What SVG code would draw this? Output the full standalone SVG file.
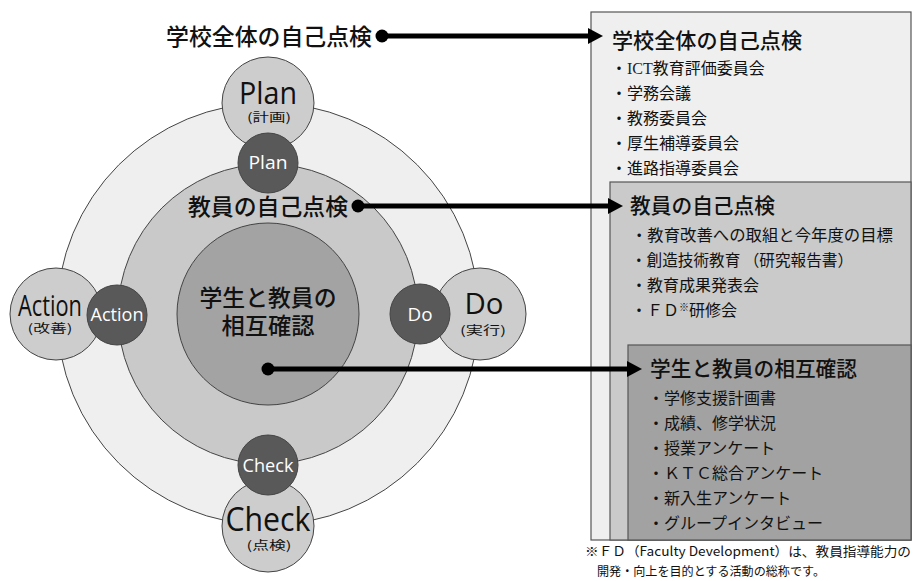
<svg xmlns="http://www.w3.org/2000/svg" width="915" height="581" viewBox="0 0 915 581">
<style>
.jp{font-family:"Noto Sans CJK JP","Noto Sans",sans-serif;fill:#111}
.lat{font-family:"Open Sans","Noto Sans CJK JP",sans-serif;fill:#111}
.wh{font-family:"Open Sans","Noto Sans",sans-serif;fill:#fff;text-anchor:middle}
.ring{stroke:#444;stroke-width:1}
.dark{fill:#595959;stroke:#444;stroke-width:1}
.light{fill:#cdcdcd;stroke:#444;stroke-width:1}
.box{stroke:#555;stroke-width:1.2}
.item{font-size:16px}
.ttl{font-size:21px;font-weight:500}
.hd{font-weight:500}
.mid{text-anchor:middle}
.con{stroke:#000;stroke-width:5;fill:none}
</style>
<rect width="915" height="581" fill="#fff"/>

<g id="right-boxes">
  <rect class="box" x="591" y="12" width="320" height="528" fill="#efefef"/>
  <rect class="box" x="610" y="182" width="301" height="358" fill="#cacaca"/>
  <rect class="box" x="628" y="345" width="283" height="195" fill="#a2a2a2"/>
</g>

<g id="rings">
  <circle class="ring" cx="268" cy="314" r="211" fill="#efefef"/>
  <circle class="ring" cx="268" cy="314" r="150" fill="#c9c9c9"/>
</g>

<g id="node-plan-outer">
  <circle class="light" cx="268" cy="103" r="46"/>
  <text class="lat mid" x="268" y="104" font-size="31" textLength="58" lengthAdjust="spacingAndGlyphs">Plan</text>
  <text class="jp mid" x="269" y="122" font-size="12" textLength="44" lengthAdjust="spacingAndGlyphs">(計画)</text>
</g>
<g id="node-action-outer">
  <circle class="light" cx="56" cy="314" r="46"/>
  <text class="lat mid" x="50" y="316" font-size="30" textLength="64" lengthAdjust="spacingAndGlyphs">Action</text>
  <text class="jp mid" x="50" y="333" font-size="12" textLength="45" lengthAdjust="spacingAndGlyphs">(改善)</text>
</g>
<g id="node-do-outer">
  <circle class="light" cx="480" cy="314" r="46"/>
  <text class="lat mid" x="484" y="314" font-size="30" textLength="39" lengthAdjust="spacingAndGlyphs">Do</text>
  <text class="jp mid" x="483" y="335" font-size="12" textLength="46" lengthAdjust="spacingAndGlyphs">(実行)</text>
</g>
<g id="node-check-outer">
  <circle class="light" cx="268" cy="526" r="46"/>
  <text class="lat mid" x="268" y="531" font-size="32" textLength="85" lengthAdjust="spacingAndGlyphs">Check</text>
  <text class="jp mid" x="269" y="550" font-size="12" textLength="45" lengthAdjust="spacingAndGlyphs">(点検)</text>
</g>

<g id="node-mutual">
  <circle class="ring" cx="268" cy="314" r="91" fill="#a3a3a3"/>
  <text class="jp mid hd" x="268" y="306" font-size="23" textLength="137" lengthAdjust="spacingAndGlyphs">学生と教員の</text>
  <text class="jp mid hd" x="268" y="334" font-size="23" textLength="93" lengthAdjust="spacingAndGlyphs">相互確認</text>
</g>

<g id="node-plan">
  <circle class="dark" cx="268" cy="163" r="30"/>
  <text class="wh" x="268" y="169" font-size="19" textLength="39" lengthAdjust="spacingAndGlyphs">Plan</text>
</g>
<g id="node-action">
  <circle class="dark" cx="117" cy="315" r="30"/>
  <text class="wh" x="117" y="321" font-size="19" textLength="53" lengthAdjust="spacingAndGlyphs">Action</text>
</g>
<g id="node-do">
  <circle class="dark" cx="420" cy="314" r="30"/>
  <text class="wh" x="420" y="321" font-size="19" textLength="25" lengthAdjust="spacingAndGlyphs">Do</text>
</g>
<g id="node-check">
  <circle class="dark" cx="268" cy="465" r="30"/>
  <text class="wh" x="268" y="472" font-size="19" textLength="51" lengthAdjust="spacingAndGlyphs">Check</text>
</g>

<g id="label-school">
  <text class="jp hd" x="166" y="45" font-size="23" textLength="206" lengthAdjust="spacingAndGlyphs">学校全体の自己点検</text>
</g>
<g id="label-teacher">
  <text class="jp hd" x="188" y="215" font-size="23" textLength="160" lengthAdjust="spacingAndGlyphs">教員の自己点検</text>
</g>

<g id="connectors">
  <circle cx="382" cy="36" r="6.5" fill="#000"/>
  <line class="con" x1="382" y1="36" x2="590" y2="36"/>
  <polygon points="588,28 603,36 588,44" fill="#000"/>
  <circle cx="358" cy="206" r="6.5" fill="#000"/>
  <line class="con" x1="358" y1="206" x2="610" y2="206"/>
  <polygon points="608,198 623,206 608,214" fill="#000"/>
  <circle cx="268" cy="369" r="6.5" fill="#000"/>
  <line class="con" x1="268" y1="369" x2="629" y2="369"/>
  <polygon points="627,361 642,369 627,377" fill="#000"/>
</g>

<g id="list-school">
  <text class="jp ttl" x="612" y="48" textLength="190" lengthAdjust="spacingAndGlyphs">学校全体の自己点検</text>
  <text class="jp item" x="611" y="74">・<tspan font-family="Liberation Serif,serif" fill="#223">ICT</tspan>教育評価委員会</text>
  <text class="jp item" x="611" y="99">・学務会議</text>
  <text class="jp item" x="611" y="124">・教務委員会</text>
  <text class="jp item" x="611" y="149">・厚生補導委員会</text>
  <text class="jp item" x="611" y="174">・進路指導委員会</text>
</g>
<g id="list-teacher">
  <text class="jp ttl" x="630" y="213" textLength="145" lengthAdjust="spacingAndGlyphs">教員の自己点検</text>
  <text class="jp item" x="631" y="241" textLength="262" lengthAdjust="spacingAndGlyphs">・教育改善への取組と今年度の目標</text>
  <text class="jp item" x="631" y="266" textLength="222" lengthAdjust="spacingAndGlyphs">・創造技術教育 （研究報告書）</text>
  <text class="jp item" x="631" y="291">・教育成果発表会</text>
  <text class="jp item" x="631" y="316">・ＦＤ<tspan font-size="10" dy="-5">※</tspan><tspan dy="5">研修会</tspan></text>
</g>
<g id="list-mutual">
  <text class="jp ttl" x="650" y="376" textLength="207" lengthAdjust="spacingAndGlyphs">学生と教員の相互確認</text>
  <text class="jp item" x="648" y="404">・学修支援計画書</text>
  <text class="jp item" x="648" y="429">・成績、修学状況</text>
  <text class="jp item" x="648" y="454">・授業アンケート</text>
  <text class="jp item" x="648" y="479">・ＫＴＣ総合アンケート</text>
  <text class="jp item" x="648" y="504">・新入生アンケート</text>
  <text class="jp item" x="648" y="529">・グループインタビュー</text>
</g>

<g id="footnote">
  <text class="jp" x="585" y="556" font-size="13" textLength="326" lengthAdjust="spacingAndGlyphs">※ＦＤ（Faculty Development）は、教員指導能力の</text>
  <text class="jp" x="597" y="576" font-size="12.5" textLength="228" lengthAdjust="spacingAndGlyphs">開発・向上を目的とする活動の総称です。</text>
</g>
</svg>
